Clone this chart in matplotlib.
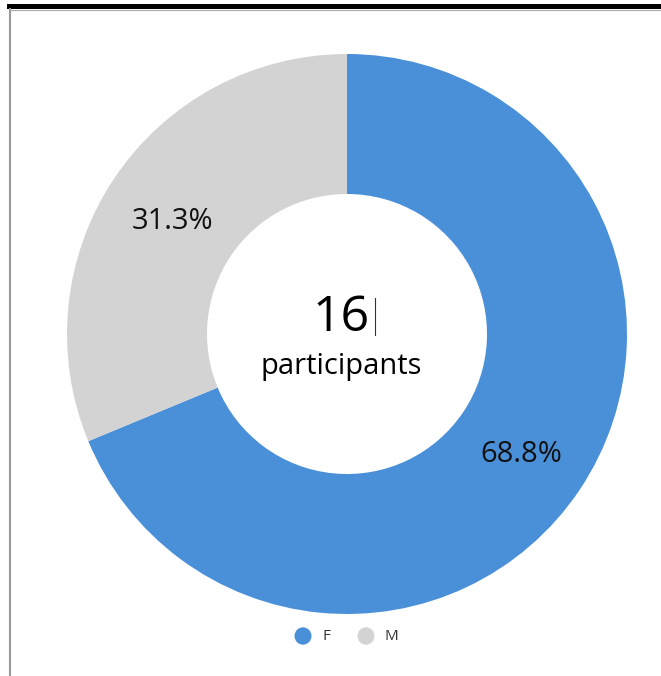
import matplotlib
matplotlib.use("Agg")
import matplotlib.pyplot as plt
from matplotlib.patches import Rectangle, Circle
from matplotlib.lines import Line2D
from decimal import Decimal, ROUND_HALF_UP

labels = ["F", "M"]
values = [11, 5]
colors = ["#4A90D9", "#D3D3D3"]
total_label = "16"
sub_label = "participants"

W, H = 661, 676
fig = plt.figure(figsize=(W / 100, H / 100), dpi=100)
plt.rcParams['font.family'] = ['Open Sans', 'DejaVu Sans']

cx, cy, R = 347, 334, 280
ax = fig.add_axes([(cx - R) / W, (H - cy - R) / H, 2 * R / W, 2 * R / H])
ax.axis('off')


def fmt(p):
    d = Decimal(str(round(p, 6))).quantize(Decimal("0.1"), rounding=ROUND_HALF_UP)
    return f"{d}%"


wedges, texts, autotexts = ax.pie(
    values, colors=colors, startangle=90, counterclock=False, radius=1,
    wedgeprops=dict(width=0.5, linewidth=0),
    autopct=fmt, pctdistance=0.75,
    textprops=dict(fontsize=21, color="#111111"))
for t in autotexts:
    x, y = t.get_position()
    t.set_position((x, y - 0.015))
ax.set_xlim(-1, 1)
ax.set_ylim(-1, 1)

ax.text(-0.02, 0.058, total_label, ha='center', va='center', fontsize=36, color="#000000")
ax.plot([0.1, 0.1], [-0.005, 0.13], color="#333333", lw=0.8)
ax.text(-0.02, -0.115, sub_label, ha='center', va='center', fontsize=21, color="#000000")

# legend
for i, (lab, col) in enumerate(zip(labels, colors)):
    x0 = 303 + i * 63
    fig.add_artist(Circle((x0 / W, (H - 636) / H), 8.5 / W, transform=fig.transFigure,
                          color=col, linewidth=0))
    fig.text((x0 + 19) / W, (H - 636) / H, lab, ha='left', va='center',
             fontsize=11, color="#333333")

# frame decorations
fig.add_artist(Rectangle((7 / W, (H - 9) / H), (W - 7) / W, 5 / H,
                         transform=fig.transFigure, color="black", linewidth=0))
fig.add_artist(Line2D([10 / W, 10 / W], [0, (H - 9) / H], transform=fig.transFigure,
                      color="#999999", lw=1.5))
fig.add_artist(Line2D([10 / W, 1], [(H - 9.5) / H, (H - 9.5) / H], transform=fig.transFigure,
                      color="#aaaaaa", lw=0.8))

fig.savefig("out.png", dpi=100)
